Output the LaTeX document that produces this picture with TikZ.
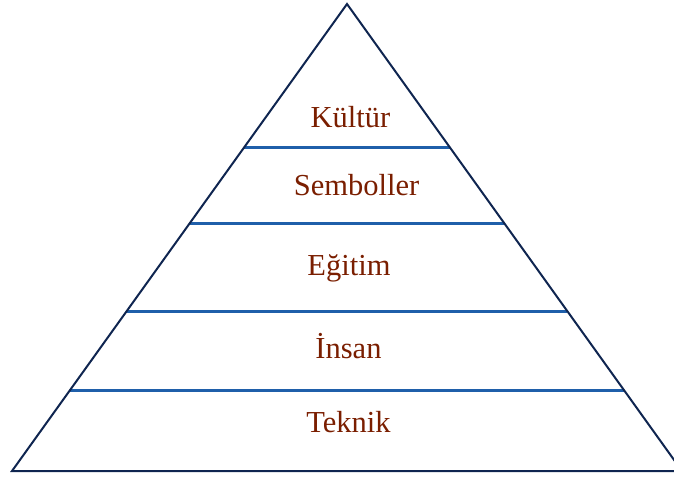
\documentclass[tikz,border=0pt]{standalone}
\usepackage{fontspec}
\setmainfont{Liberation Serif}
\definecolor{edgenavy}{HTML}{0F2550}
\definecolor{tierblue}{HTML}{1F5FAA}
\definecolor{labelred}{HTML}{7A1E00}
\begin{document}
\begin{tikzpicture}[x=1pt,y=-1pt,
  outline/.style={draw=edgenavy,line width=2pt,line join=miter},
  tier/.style={draw=tierblue,line width=3pt},
  tierlabel/.style={text=labelred,font=\fontsize{30.5}{36}\selectfont,anchor=base,inner sep=0pt}]
  \useasboundingbox (0,0) rectangle (674,477);
  \begin{scope}
    \clip (0,0) rectangle (674,477);
    % pyramid corners
    \coordinate (apex) at (347,4);
    \coordinate (bl) at (12,471);
    \coordinate (br) at (682,471);
    % tier dividers, reaching the sides of the pyramid
    \foreach \y in {147,223,311,390} {
      \pgfmathsetmacro{\dx}{(335/467)*(\y-4)}
      \draw[tier] ({347-\dx},\y) -- ({347+\dx},\y);
    }
    \draw[outline] (apex) -- (bl) -- (br) -- cycle;
  \end{scope}
  \node[tierlabel] (kultur) at (350.5,127) {Kültür};
  \node[tierlabel] (semboller) at (356.5,195) {Semboller};
  \node[tierlabel] (egitim) at (349,275) {Eğitim};
  \node[tierlabel] (insan) at (348.5,358) {İnsan};
  \node[tierlabel] (teknik) at (348.5,432) {Teknik};
\end{tikzpicture}
\end{document}
